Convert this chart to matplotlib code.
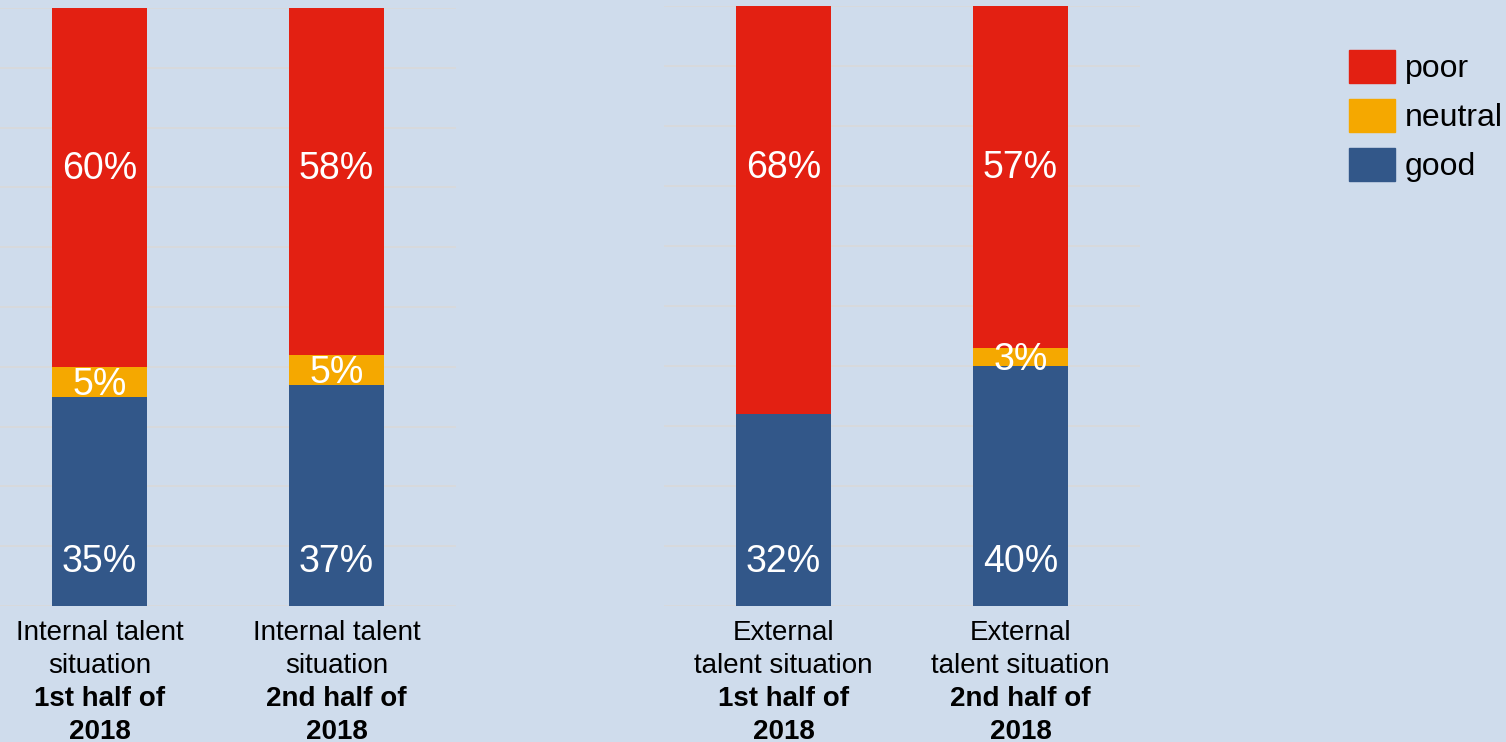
import numpy as np
import matplotlib.pyplot as plt
from matplotlib.patches import Patch
from matplotlib.transforms import blended_transform_factory

plt.rcParams['font.family'] = ['Liberation Sans', 'DejaVu Sans']

# survey shares in percent
internal_good = [35, 37]
internal_neutral = [5, 5]
internal_poor = [60, 58]
external_good = [32, 40]
external_neutral = [0, 3]
external_poor = [68, 57]

internal_top = ['Internal talent\nsituation', 'Internal talent\nsituation']
external_top = ['External\ntalent situation', 'External\ntalent situation']
periods = ['1st half of\n2018', '2nd half of\n2018']

c_good = '#325789'
c_neutral = '#F5A800'
c_poor = '#E32012'
bg = '#CFDCEC'

fig = plt.figure(figsize=(15.06, 7.42), dpi=100)
fig.patch.set_facecolor(bg)

W, H = 1506, 742


def box(x0, x1, y0, y1):
    return [x0 / W, 1 - y1 / H, (x1 - x0) / W, (y1 - y0) / H]


ax1 = fig.add_axes(box(0, 456, 8, 606))
ax2 = fig.add_axes(box(664, 1140, 6, 606))


def panel(ax, good, neutral, poor, tops, xlim):
    x = np.arange(len(good))
    good = np.array(good)
    neutral = np.array(neutral)
    poor = np.array(poor)
    ax.bar(x, good, 0.4, color=c_good, zorder=3)
    ax.bar(x, neutral, 0.4, bottom=good, color=c_neutral, zorder=3)
    ax.bar(x, poor, 0.4, bottom=good + neutral, color=c_poor, zorder=3)
    for i in x:
        ax.text(i, 7.3, f'{good[i]}%', ha='center', va='center',
                color='white', fontsize=27, zorder=4)
        if neutral[i] > 0:
            ax.text(i, good[i] + neutral[i] / 2 - 0.5, f'{neutral[i]}%',
                    ha='center', va='center', color='white', fontsize=27,
                    zorder=4)
        ax.text(i, 73, f'{poor[i]}%', ha='center', va='center',
                color='white', fontsize=27, zorder=4)
    ax.set_xlim(*xlim)
    ax.set_ylim(0, 100)
    ax.set_yticks(np.arange(0, 101, 10))
    ax.set_xticks([])
    ax.tick_params(left=False, labelleft=False)
    ax.grid(axis='y', color='#D9D9D9', linewidth=1.2, zorder=0)
    ax.set_facecolor(bg)
    for s in ax.spines.values():
        s.set_visible(False)

    # category labels under the bars
    tr = blended_transform_factory(ax.transData, fig.transFigure)
    for i in x:
        t1, t2 = tops[i].split('\n')
        p1, p2 = periods[i].split('\n')
        for k, (txt, w) in enumerate([(t1, 'normal'), (t2, 'normal'),
                                      (p1, 'bold'), (p2, 'bold')]):
            ax.text(i, 1 - (633 + 33 * k) / H, txt, transform=tr,
                    ha='center', va='center', fontsize=20, fontweight=w,
                    clip_on=False)


panel(ax1, internal_good, internal_neutral, internal_poor, internal_top,
      (-0.42, 1.504))
panel(ax2, external_good, external_neutral, external_poor, external_top,
      (-0.504, 1.504))

handles = [Patch(color=c_poor), Patch(color=c_neutral), Patch(color=c_good)]
fig.legend(handles, ['poor', 'neutral', 'good'], loc='upper left',
           bbox_to_anchor=(1349 / W, 1 - 50 / H), frameon=False, fontsize=23,
           handlelength=1.44, handleheight=1.2, labelspacing=0.47,
           handletextpad=0.31, borderpad=0, borderaxespad=0)

plt.savefig('out.png', facecolor=bg)
